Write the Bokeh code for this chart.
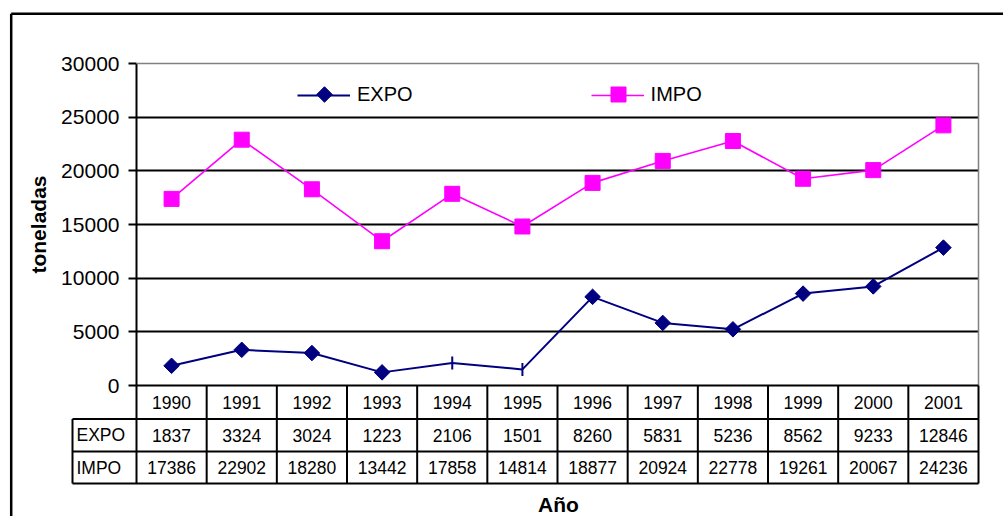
import numpy as np
from bokeh.plotting import figure
from bokeh.models import (ColumnDataSource, Range1d, FixedTicker, Legend, LegendItem,
                          CDSView, BooleanFilter, NumeralTickFormatter)
from bokeh.core.properties import value
from bokeh.embed import file_html
from bokeh.resources import INLINE

# ---------------- data ----------------
years = ["1990", "1991", "1992", "1993", "1994", "1995",
         "1996", "1997", "1998", "1999", "2000", "2001"]
expo = [1837, 3324, 3024, 1223, 2106, 1501, 8260, 5831, 5236, 8562, 9233, 12846]
impo = [17386, 22902, 18280, 13442, 17858, 14814, 18877, 20924, 22778, 19261, 20067, 24236]
y_ticks = [0, 5000, 10000, 15000, 20000, 25000, 30000]
series_names = ["EXPO", "IMPO"]
x_title = "Año"
y_title = "toneladas"
expo_bare_years = ["1994", "1995"]   # EXPO points drawn as a bare tick

# ---------------- layout (page pixels) ----------------
FONT = "Liberation Sans"
W, H = 1003, 516
PAGE = 0
FL, FR, FT, FB = 136, 978, 63, 385       # frame (= plot area) edges on the page
YMAX = y_ticks[-1]
ncat = len(years)
ppc = (FR - FL) / ncat                   # px per category
upp = YMAX / (FB - FT)                   # value units per px

EXPO_C = "#000080"
IMPO_C = "#FF00FF"


def dx(px):
    return (px - FL) / ppc


def dy(py):
    return (FB - py) * upp


p = figure(width=W, height=H, output_backend="svg", toolbar_location=None,
           x_range=Range1d(0, ncat), y_range=Range1d(0, YMAX),
           min_border_left=FL - PAGE, min_border_right=(PAGE + W) - FR,
           min_border_top=FT - PAGE, min_border_bottom=(PAGE + H) - FB,
           background_fill_color="white", border_fill_color="white")
p.outline_line_color = None
p.xaxis.visible = False

# y axis
ya = p.yaxis[0]
ya.ticker = FixedTicker(ticks=y_ticks)
ya.formatter = NumeralTickFormatter(format="0")
ya.axis_line_color = "black"
ya.axis_line_width = 2
ya.major_tick_line_color = "black"
ya.major_tick_line_width = 2
ya.major_tick_out = 8
ya.major_tick_in = 0
ya.minor_tick_line_color = None
ya.major_label_standoff = 9
ya.major_label_text_font = FONT
ya.major_label_text_font_size = "21px"
ya.major_label_text_color = "black"
ya.axis_label = y_title
ya.axis_label_text_font = FONT
ya.axis_label_text_font_size = "21px"
ya.axis_label_text_font_style = "bold"
ya.axis_label_text_color = "black"
ya.axis_label_standoff = 8

# grid
p.xgrid.visible = False
p.ygrid.ticker = FixedTicker(ticks=y_ticks[1:-1])
p.ygrid.grid_line_color = "black"
p.ygrid.grid_line_width = 2

# plot-area border (gray top and right)
p.segment(x0=[0, ncat], y0=[YMAX, 0], x1=[ncat, ncat], y1=[YMAX, YMAX],
          line_color="#808080", line_width=1.5, level="overlay")

# series
xc = [i + 0.5 for i in range(ncat)]
src = ColumnDataSource(dict(x=xc, year=years, expo=expo, impo=impo))
bare = [y in expo_bare_years for y in years]
view_d = CDSView(filter=BooleanFilter([not b for b in bare]))
view_t = CDSView(filter=BooleanFilter(bare))

impo_line = p.line("x", "impo", source=src, line_color=IMPO_C, line_width=1.6)
impo_pts = p.scatter("x", "impo", source=src, marker="square", size=15,
                     fill_color=IMPO_C, line_color=IMPO_C)
expo_line = p.line("x", "expo", source=src, line_color=EXPO_C, line_width=2)
expo_pts = p.scatter("x", "expo", source=src, view=view_d, marker="square", angle=np.pi / 4,
                     size=11, fill_color=EXPO_C, line_color=EXPO_C)
expo_tick = p.scatter("x", "expo", source=src, view=view_t, marker="dash", angle=np.pi / 2,
                      size=13, line_color=EXPO_C, line_width=2)

# legend (lines + labels), markers placed on the legend glyph centres
LEG_X, LEG_PY = 161, 94        # glyph start (from frame left) / centre (page y)
legend = Legend(items=[LegendItem(label=series_names[0], renderers=[expo_line]),
                       LegendItem(label=series_names[1], renderers=[impo_line])],
                orientation="horizontal", location=(LEG_X, (FB - LEG_PY) - 12),
                padding=0, margin=0,
                spacing=178, glyph_width=53, glyph_height=20, label_standoff=7,
                label_text_font=FONT, label_text_font_size="20px", label_text_color="black",
                border_line_color=None, background_fill_alpha=0)
p.add_layout(legend)
leg_y = dy(LEG_PY)
p.scatter(x=[dx(FL + LEG_X + 27)], y=[leg_y], marker="square", angle=np.pi / 4, size=11,
          fill_color=EXPO_C, line_color=EXPO_C, level="overlay")
p.scatter(x=[dx(FL + LEG_X + 294 + 27)], y=[leg_y], marker="square", size=15,
          fill_color=IMPO_C, line_color=IMPO_C, level="overlay")

# ---------------- data table under the plot ----------------
rows_px = [385, 418.5, 451, 483]
lab_left = 72
ry = [dy(v) for v in rows_px]
rc = [(ry[i] + ry[i + 1]) / 2 for i in range(3)]

vx0 = list(range(ncat + 1))
p.segment(x0=vx0, y0=[ry[0]] * len(vx0), x1=vx0, y1=[ry[3]] * len(vx0),
          line_color="black", line_width=2, level="overlay")
p.segment(x0=[dx(lab_left)], y0=[ry[1]], x1=[dx(lab_left)], y1=[ry[3]],
          line_color="black", line_width=2, level="overlay")
p.segment(x0=[0, dx(lab_left), dx(lab_left), dx(lab_left)], y0=ry,
          x1=[ncat] * 4, y1=ry, line_color="black", line_width=2, level="overlay")

tfont = dict(text_font=value(FONT), text_font_size="17.5px", text_color="black",
             text_baseline="middle")
p.text(x=xc, y=[rc[0]] * ncat, text=years, text_align="center", level="overlay", **tfont)
p.text(x=xc, y=[rc[1]] * ncat, text=[str(v) for v in expo], text_align="center",
       level="overlay", **tfont)
p.text(x=xc, y=[rc[2]] * ncat, text=[str(v) for v in impo], text_align="center",
       level="overlay", **tfont)
p.text(x=[dx(lab_left + 4)] * 2, y=[rc[1], rc[2]], text=series_names, text_align="left",
       level="overlay", **tfont)

# x title
p.text(x=[dx(558)], y=[dy(504)], text=[x_title], text_align="center",
       text_baseline="middle", text_font=value(FONT), text_font_size="21px",
       text_font_style="bold", text_color="black", level="overlay")

# outer chart border (left and top visible)
p.segment(x0=[dx(10.7), dx(10.7)], y0=[dy(13.3), dy(13.3)], x1=[dx(10.7), dx(1020)],
          y1=[dy(540), dy(13.3)], line_color="black", line_width=2.5, level="overlay")

open("out.html", "w").write(file_html(p, INLINE))
